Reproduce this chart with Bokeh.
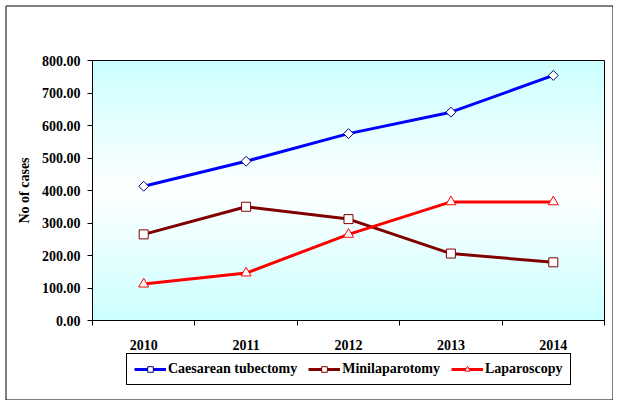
import numpy as np
from bokeh.plotting import figure
from bokeh.models import Range1d, FixedTicker, NumeralTickFormatter, Legend, BoxAnnotation
from bokeh.embed import file_html
from bokeh.resources import INLINE

years = [2010, 2011, 2012, 2013, 2014]
caesarean = [413, 490, 575, 641, 754]
minilap = [265, 350, 312, 206, 179]
laparoscopy = [112, 146, 265, 365, 365]
y_ticks = [0, 100, 200, 300, 400, 500, 600, 700, 800]

FONT = "Liberation Serif"

# canvas geometry (pixels) -> ranges
W, H = 613, 400
PL, PR, PT, PB = 92, 604, 60, 320          # plot-area edges in pixels
X0, X1 = 2009.5, 2014.5
Y0, Y1 = 0, 800
sx = (PR - PL) / (X1 - X0)
sy = (PB - PT) / (Y1 - Y0)
x_range = Range1d(X0 - PL / sx, X1 + (W - PR) / sx)
y_range = Range1d(Y0 - (H - PB) / sy, Y1 + PT / sy)

def px_x(px):
    return X0 + (px - PL) / sx

def px_y(py):
    return Y0 + (PB - py) / sy

p = figure(width=W, height=H, output_backend="svg", toolbar_location=None,
           x_range=x_range, y_range=y_range,
           min_border_left=0, min_border_right=0, min_border_top=0, min_border_bottom=0)

p.xgrid.visible = False
p.ygrid.visible = False
p.outline_line_color = None
p.background_fill_color = "white"
p.border_fill_color = "white"

# outer chart border
p.add_layout(BoxAnnotation(left=px_x(5.5), right=px_x(612.5), top=px_y(5.5), bottom=px_y(399.5),
                           fill_alpha=0, line_color="black", line_alpha=1, line_width=1))

# gradient plot area (cyan -> white -> cyan)
n = 260
t = np.abs(np.linspace(-1, 1, n))
cy = np.array([204, 255, 255], dtype=float)
wh = np.array([255, 255, 255], dtype=float)
img = np.zeros((n, 1), dtype=np.uint32)
view = img.view(dtype=np.uint8).reshape((n, 1, 4))
for i in range(n):
    c = wh * (1 - t[i]) + cy * t[i]
    view[i, 0, 0] = int(c[0]); view[i, 0, 1] = int(c[1]); view[i, 0, 2] = int(c[2]); view[i, 0, 3] = 255
p.image_rgba(image=[img], x=X0, y=Y0, dw=X1 - X0, dh=Y1 - Y0)
p.add_layout(BoxAnnotation(left=X0, right=X1, bottom=Y0, top=Y1,
                           fill_alpha=0, line_color="black", line_alpha=1, line_width=1))

# lines and markers
l1 = p.line(years, caesarean, line_color="#0000FF", line_width=3)
m1 = p.scatter(years, caesarean, marker="square", angle=np.pi / 4, size=7,
               fill_color="white", line_color="#000080", line_width=1)
l2 = p.line(years, minilap, line_color="#800000", line_width=3)
m2 = p.scatter(years, minilap, marker="square", size=9,
               fill_color="white", line_color="#800000", line_width=1)
l3 = p.line(years, laparoscopy, line_color="#FF0000", line_width=3)
m3 = p.scatter(years, laparoscopy, marker="triangle", size=10,
               fill_color="white", line_color="#FF0000", line_width=1)

# x axis
xa = p.xaxis[0]
xa.fixed_location = Y0
xa.bounds = (X0, X1)
xa.ticker = FixedTicker(ticks=years, minor_ticks=[2009.5, 2010.5, 2011.5, 2012.5, 2013.5, 2014.5])
xa.major_tick_out = 0
xa.major_tick_in = 0
xa.minor_tick_out = 5
xa.minor_tick_in = 0
xa.minor_tick_line_color = "black"
xa.axis_line_color = "black"
xa.major_label_standoff = 14
xa.major_label_text_font = FONT
xa.major_label_text_font_style = "bold"
xa.major_label_text_font_size = "14px"
xa.major_label_text_color = "black"

# y axis
ya = p.yaxis[0]
ya.fixed_location = X0
ya.bounds = (Y0, Y1)
ya.ticker = FixedTicker(ticks=y_ticks, minor_ticks=[])
ya.formatter = NumeralTickFormatter(format="0.00")
ya.major_tick_out = 5
ya.major_tick_in = 0
ya.major_tick_line_color = "black"
ya.axis_line_color = "black"
ya.major_label_standoff = 7
ya.major_label_text_font = FONT
ya.major_label_text_font_style = "bold"
ya.major_label_text_font_size = "14px"
ya.major_label_text_color = "black"
ya.axis_label = "No of cases"
ya.axis_label_text_font = FONT
ya.axis_label_text_font_style = "bold"
ya.axis_label_text_font_size = "14px"
ya.axis_label_text_color = "black"
ya.axis_label_standoff = 7

legend = Legend(items=[("Caesarean tubectomy", [l1, m1]),
                       ("Minilaparotomy", [l2, m2]),
                       ("Laparoscopy", [l3, m3])],
                orientation="horizontal", location=(126, H - 385))
legend.label_text_font = FONT
legend.label_text_font_style = "bold"
legend.label_text_font_size = "14px"
legend.label_text_color = "black"
legend.border_line_color = "black"
legend.border_line_alpha = 1
legend.border_line_width = 1
legend.background_fill_color = "white"
legend.background_fill_alpha = 1
legend.glyph_width = 32
legend.glyph_height = 14
legend.label_standoff = 2
legend.spacing = 11
legend.padding = 7
legend.margin = 0
legend.label_height = 14
p.add_layout(legend, "center")

open("out.html", "w").write(file_html(p, INLINE))
